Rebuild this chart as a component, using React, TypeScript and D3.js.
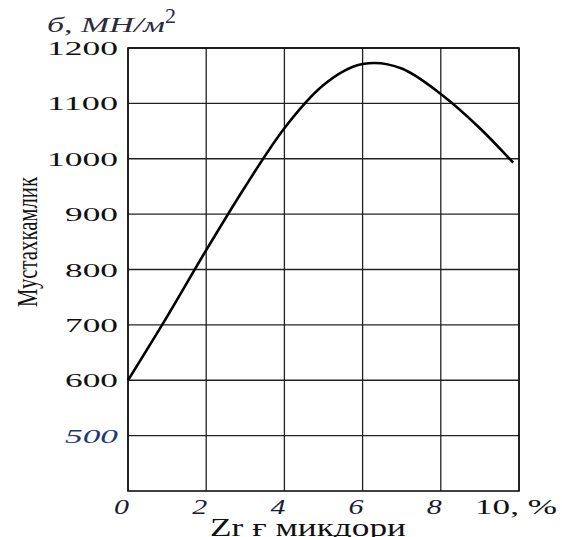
import * as d3 from "d3";

// zirconium content, % and strength, MN/m2
const zrPercent = [0, 1, 2, 3, 4, 5, 6, 6.3, 7, 8, 9, 9.85];
const strength = [600, 715, 835, 950, 1055, 1133, 1171, 1173, 1163, 1117, 1055, 993];

const yTicks = [1200, 1100, 1000, 900, 800, 700, 600, 500];
const xTicks = [0, 2, 4, 6, 8, 10];
const xTickLabels = ["0", "2", "4", "6", "8", "10, %"];

const W = 562, H = 537;
const m = { left: 128, right: 43, top: 48, bottom: 46 };

export default function App() {
  const x = d3.scaleLinear().domain([0, 10]).range([m.left, W - m.right]);
  const y = d3.scaleLinear().domain([400, 1200]).range([H - m.bottom, m.top]);

  const pts = zrPercent.map((v, i) => [v, strength[i]] as [number, number]);
  const line = d3.line<[number, number]>()
    .x(d => x(d[0]))
    .y(d => y(d[1]))
    .curve(d3.curveMonotoneX);

  const serif = "'Liberation Serif', 'Times New Roman', serif";

  return (
    <svg width={W} height={H} style={{ position: "absolute", left: 0, top: 0 }}>
      <rect width={W} height={H} fill="#fff" />
      {/* horizontal grid */}
      {yTicks.map(t => (
        <line key={"h" + t} x1={x(0)} x2={x(10)} y1={y(t)} y2={y(t)} stroke="#222" strokeWidth={1.3} />
      ))}
      {/* vertical grid */}
      {xTicks.map(t => (
        <line key={"v" + t} x1={x(t)} x2={x(t)} y1={y(1200)} y2={y(400)} stroke="#222" strokeWidth={1.3} />
      ))}
      <rect x={x(0)} y={y(1200)} width={x(10) - x(0)} height={y(400) - y(1200)} fill="none" stroke="#111" strokeWidth={1.6} />

      <path d={line(pts) ?? ""} fill="none" stroke="#000" strokeWidth={2.6} />

      {/* y tick labels */}
      {yTicks.map(t => (
        <text key={"yl" + t} x={118} y={y(t) + 7} textAnchor="end" fontFamily={serif} fontSize={19}
          fontStyle={t === 500 ? "italic" : "normal"} fill={t === 500 ? "#1c3a78" : "#111"}
          textLength={t >= 1000 ? 71 : 53} lengthAdjust="spacingAndGlyphs">
          {t}
        </text>
      ))}

      {/* x tick labels */}
      {xTicks.map((t, i) => (
        i < 5 ? (
          <text key={"xl" + t} x={x(t) - 14} y={514} fontFamily={serif} fontSize={22} fontStyle="italic"
            fill="#1b1b33" textLength={15} lengthAdjust="spacingAndGlyphs">
            {xTickLabels[i]}
          </text>
        ) : (
          <text key={"xl" + t} x={475} y={514} fontFamily={serif} fontSize={22} fill="#111"
            textLength={82} lengthAdjust="spacingAndGlyphs">
            {xTickLabels[i]}
          </text>
        )
      ))}

      {/* unit title */}
      <text x={47} y={32} fontFamily={serif} fontSize={22} fontStyle="italic" fill="#2a2a3a">
        <tspan textLength={118} lengthAdjust="spacingAndGlyphs">б, МН/м</tspan>
        <tspan dy={-9} fontSize={22} fontStyle="normal">2</tspan>
      </text>

      {/* axis titles */}
      <text transform={`translate(37,242) rotate(-90)`} textAnchor="middle" fontFamily={serif} fontSize={30}
        fill="#111" textLength={130} lengthAdjust="spacingAndGlyphs">
        Мустахкамлик
      </text>
      <text x={210} y={536} fontFamily={serif} fontSize={25} fill="#111" textLength={196} lengthAdjust="spacingAndGlyphs">
        Zr ғ микдори
      </text>
    </svg>
  );
}
